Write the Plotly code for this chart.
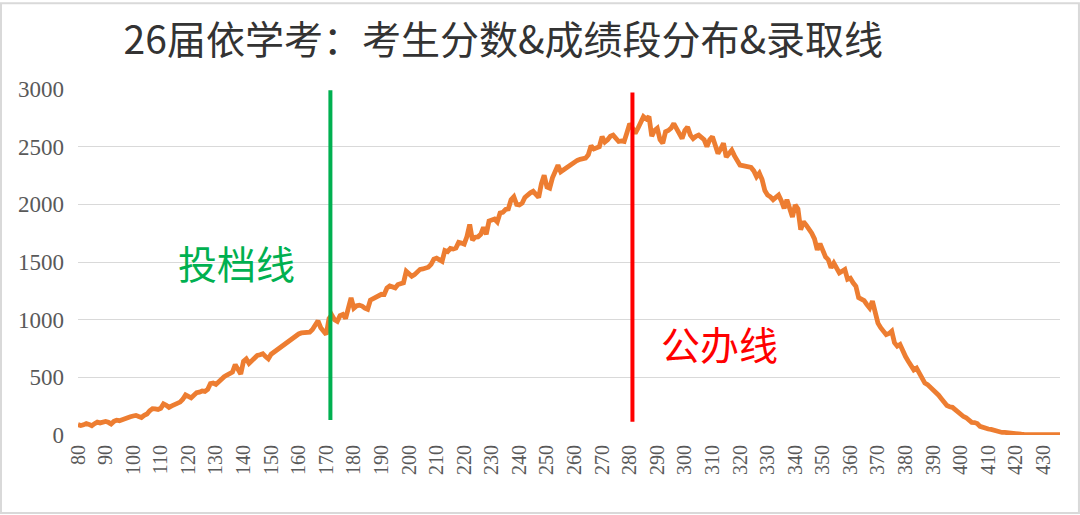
import plotly.graph_objects as go

scores = list(range(80, 437))
counts = [
    90, 82, 88, 100, 92, 80, 98, 112, 105, 108,            # 80-89
    118, 110, 96, 118, 128, 124, 130, 145, 150, 158,       # 90-99
    165, 170, 160, 152, 170, 182, 210, 228, 226, 222,      # 100-109
    232, 270, 258, 240, 252, 265, 275, 285, 310, 348,      # 110-119
    335, 322, 345, 366, 372, 382, 378, 395, 445, 450,      # 120-129
    438, 462, 494, 505, 520, 530, 545, 610, 560, 528,      # 130-139
    640, 660, 620, 645, 662, 690, 696, 705, 680, 660,      # 140-149
    700, 718, 740, 755, 775, 790, 805, 825, 850, 862,      # 150-159
    876, 885, 890, 888, 892, 915, 960, 990, 930, 900,      # 160-169
    872, 1010, 1040, 1000, 985, 1035, 1045, 1010, 1110, 1190,  # 170-179
    1100, 1120, 1125, 1118, 1100, 1090, 1170, 1185, 1200, 1210,  # 180-189
    1220, 1218, 1275, 1292, 1280, 1276, 1305, 1318, 1320, 1420,  # 190-199
    1395, 1376, 1390, 1420, 1436, 1440, 1450, 1455, 1480, 1525,  # 200-209
    1534, 1515, 1506, 1600, 1590, 1618, 1612, 1620, 1670, 1664,  # 210-219
    1655, 1720, 1825, 1690, 1715, 1718, 1740, 1800, 1740, 1855,  # 220-229
    1870, 1873, 1848, 1925, 1930, 1955, 1960, 2040, 2066, 2000,  # 230-239
    1995, 2010, 2060, 2085, 2100, 2113, 2080, 2060, 2180, 2252,  # 240-249
    2150, 2140, 2230, 2300, 2339, 2282, 2300, 2310, 2330, 2353,  # 250-259
    2365, 2381, 2390, 2395, 2400, 2430, 2508, 2480, 2490, 2500,  # 260-269
    2587, 2540, 2560, 2590, 2600, 2570, 2545, 2550, 2545, 2620,  # 270-279
    2700, 2660, 2615, 2660, 2720, 2760, 2740, 2760, 2590, 2640,  # 280-289
    2660, 2560, 2530, 2630, 2640, 2660, 2700, 2650, 2600, 2570,  # 290-299
    2640, 2670, 2600, 2570, 2590, 2600, 2580, 2560, 2500, 2560,  # 300-309
    2587, 2510, 2440, 2480, 2530, 2410, 2440, 2470, 2420, 2380,  # 310-319
    2340, 2335, 2330, 2330, 2320, 2290, 2240, 2270, 2215, 2120,  # 320-329
    2080, 2065, 2040, 2060, 2080, 2030, 1965, 2040, 1960, 1890,  # 330-339
    1995, 1960, 1780, 1850, 1820, 1790, 1750, 1700, 1605, 1660,  # 340-349
    1600, 1545, 1520, 1450, 1490, 1440, 1405, 1420, 1435, 1350,  # 350-359
    1360, 1320, 1290, 1190, 1180, 1165, 1130, 1100, 1160, 1040,  # 360-369
    970, 930, 900, 870, 880, 900, 800, 770, 785, 720,            # 370-379
    680, 640, 600, 565, 580, 530, 480, 450, 437, 415,            # 380-389
    390, 375, 345, 315, 285, 255, 245, 240, 220, 195,            # 390-399
    175, 160, 150, 125, 110, 108, 100, 75, 65, 60,               # 400-409
    52, 48, 40, 30, 23, 22, 22, 18, 14, 11,                      # 410-419
    9, 8, 7, 6, 6, 5, 5, 4, 4, 4,                                # 420-429
    3, 3, 3, 3, 3, 2, 2,                                         # 430-436
]

line_names = ["投档线", "公办线"]
line_scores = [171.5, 281]
line_colors = ["#00b050", "#ff0000"]
line_bottoms = [130, 115]
line_tops = [2990, 2970]

title_text = "26届依学考：考生分数&成绩段分布&录取线"

fig = go.Figure()
fig.add_trace(go.Scatter(
    x=scores, y=counts, mode="lines",
    line=dict(color="#ed7d31", width=4.8),
    hoverinfo="x+y", showlegend=False,
))
for s, c, b, t in zip(line_scores, line_colors, line_bottoms, line_tops):
    fig.add_trace(go.Scatter(
        x=[s, s], y=[b, t], mode="lines",
        line=dict(color=c, width=4), showlegend=False, hoverinfo="skip",
    ))

# labels
fig.add_annotation(x=0.1615, y=0.5, xref="paper", yref="paper",
                   xanchor="center", yanchor="middle",
                   text=line_names[0], showarrow=False,
                   font=dict(family="Noto Sans CJK SC", size=39, color="#00b050"))
fig.add_annotation(x=0.653, y=0.266, xref="paper", yref="paper",
                   xanchor="center", yanchor="middle",
                   text=line_names[1], showarrow=False,
                   font=dict(family="Noto Sans CJK SC", size=39, color="#ff0000"))

# outer frame
fig.add_shape(type="rect", xref="paper", yref="paper",
              x0=-0.0784, x1=1.0193, y0=-0.2254, y1=1.248,
              line=dict(color="#d9d9d9", width=2))

fig.update_layout(
    width=1080, height=515,
    margin=dict(l=78, r=20, t=89, b=80),
    paper_bgcolor="white", plot_bgcolor="white",
    title=dict(text=title_text, x=0.466, xanchor="center", y=0.922, yanchor="middle",
               font=dict(family="Noto Sans CJK SC", size=39, color="#333333")),
    xaxis=dict(range=[80, 436], tickmode="linear", tick0=80, dtick=10,
               tickangle=-90, showgrid=False, zeroline=False, showline=False,
               ticks="", ticklabelstandoff=5,
               tickfont=dict(family="Liberation Serif", size=20, color="#595959")),
    yaxis=dict(range=[0, 3000], tickmode="linear", tick0=0, dtick=500,
               showgrid=True, gridcolor="#d9d9d9", gridwidth=1, zeroline=False,
               showline=False, ticks="", ticklabelstandoff=13,
               tickfont=dict(family="Liberation Serif", size=23, color="#595959")),
)

fig.write_html("out.html")
